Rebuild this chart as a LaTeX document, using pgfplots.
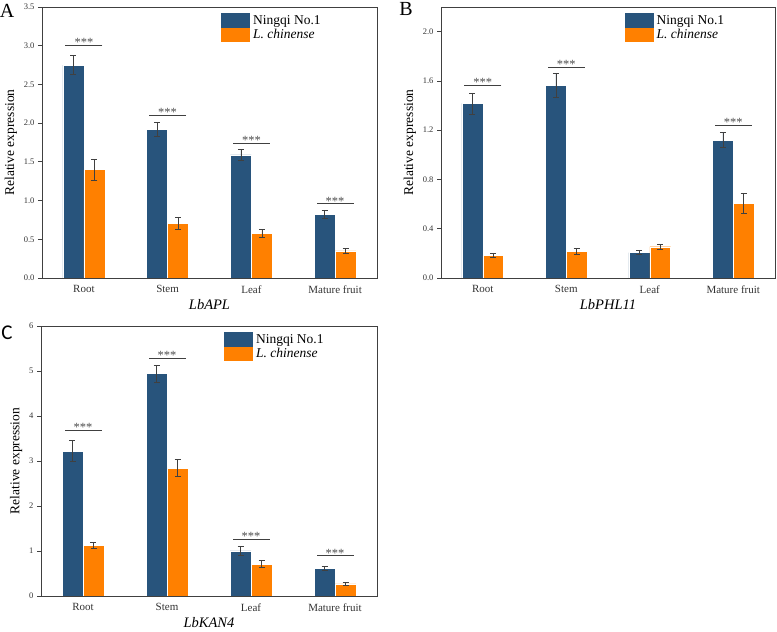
\documentclass[border=0pt]{standalone}
\usepackage{pgfplots}
\pgfplotsset{compat=1.18}
\usepackage{fontspec}
\setmainfont{Liberation Serif}
\newfontfamily\calib{Carlito}
\definecolor{ningqi}{HTML}{28547C}
\definecolor{lchin}{HTML}{FF8000}
\definecolor{axgray}{HTML}{404040}
\pgfplotsset{
  panel/.style={
    scale only axis, anchor=south west,
    xmin=-0.5, xmax=3.5,
    xtick={0,1,2,3}, xticklabels={Root,Stem,Leaf,Mature fruit},
    x tick style={draw=none},
    ytick pos=left, tick align=outside, major tick length=4pt,
    y tick style={axgray, line width=0.8pt},
    axis line style={axgray, line width=0.9pt},
    tick label style={font=\fontsize{8.5}{10}\selectfont, text=black!80},
    x tick label style={font=\fontsize{11}{13}\selectfont},
    /pgf/number format/assume math mode=true,
    ylabel={Relative expression},
    ylabel style={font=\fontsize{13.5}{15}\selectfont},
    xlabel style={font=\fontsize{14.5}{16}\selectfont\itshape, at={(axis description cs:0.5,0)}, anchor=center, yshift=-27pt},
    legend style={draw=none, fill=none, anchor=north west, font=\fontsize{13.5}{15}\selectfont,
      nodes={inner sep=1.2pt}, row sep=0.5pt,
      /tikz/every odd column/.append style={column sep=2.5pt}},
    legend cell align=left,
  },
  errs/.style={error bars/.cd, y dir=both, y explicit,
    error bar style={draw=black!75, line width=0.6pt},
    error mark options={rotate=90, draw=black!75, line width=0.6pt, mark size=3pt}},
  nq/.style={ybar, bar width=0.25, bar shift=0, fill=ningqi, draw=white, line width=0.4pt,
    legend image code/.code={\fill[ningqi] (0pt,-6.5pt) rectangle (28pt,7pt);}, errs},
  lc/.style={ybar, bar width=0.25, bar shift=0, fill=lchin, draw=white, line width=0.4pt,
    legend image code/.code={\fill[lchin] (0pt,-6.5pt) rectangle (28pt,7pt);}, errs},
  sig/.style={only marks, mark=-, mark size=18.5pt, mark options={draw=axgray, line width=0.7pt},
    nodes near coords={***},
    every node near coord/.append style={font=\fontsize{12.5}{12}\selectfont, text=black!70, anchor=base, inner sep=0pt, yshift=-1.5pt},
    forget plot},
}
% bars of Ningqi No.1 sit at category - 0.125, L. chinense at category + 0.125
\begin{document}
\begin{tikzpicture}
\useasboundingbox (0,0) rectangle (777pt,632pt);
\node[font=\fontsize{20}{20}\selectfont] at (7pt,621pt) {A};
\node[font=\fontsize{20}{20}\selectfont] at (406pt,623pt) {B};
\node[font=\calib\fontsize{21}{21}\selectfont] at (7pt,299pt) {C};

% A
\begin{axis}[panel, at={(42pt,354pt)}, width=335pt, height=271pt,
  ymin=0, ymax=3.5, ytick={0,0.5,1,1.5,2,2.5,3,3.5},
  y tick label style={/pgf/number format/.cd, fixed, fixed zerofill, precision=1},
  xlabel={LbAPL}, legend style={at={(0.525,0.985)}}]
\addplot[nq] coordinates {(-0.125,2.75) +- (0,0.12) (0.875,1.92) +- (0,0.09) (1.875,1.59) +- (0,0.07) (2.875,0.82) +- (0,0.05)};
\addlegendentry{Ningqi No.1}
\addplot[lc] coordinates {(0.125,1.40) +- (0,0.135) (1.125,0.71) +- (0,0.08) (2.125,0.58) +- (0,0.05) (3.125,0.35) +- (0,0.03)};
\addlegendentry{\textit{L. chinense}}
\addplot[sig] coordinates {(0,3.01) (1,2.10) (2,1.74) (3,0.96)};
\end{axis}

% B
\begin{axis}[panel, at={(441pt,354pt)}, width=334pt, height=271pt,
  ymin=0, ymax=2.2, ytick={0,0.4,0.8,1.2,1.6,2.0},
  y tick label style={/pgf/number format/.cd, fixed, fixed zerofill, precision=1},
  xlabel={LbPHL11}, legend style={at={(0.54,0.985)}}]
\addplot[nq] coordinates {(-0.125,1.417) +- (0,0.085) (0.875,1.563) +- (0,0.10) (1.875,0.206) +- (0,0.015) (2.875,1.12) +- (0,0.06)};
\addlegendentry{Ningqi No.1}
\addplot[lc] coordinates {(0.125,0.184) +- (0,0.015) (1.125,0.214) +- (0,0.025) (2.125,0.254) +- (0,0.02) (3.125,0.607) +- (0,0.08)};
\addlegendentry{\textit{L. chinense}}
\addplot[sig] coordinates {(0,1.567) (1,1.71) (3,1.24)};
\end{axis}

% C
\begin{axis}[panel, at={(41pt,36pt)}, width=336pt, height=270pt,
  ymin=0, ymax=6, ytick={0,1,2,3,4,5,6},
  xlabel={LbKAN4}, legend style={at={(0.535,0.985)}}]
\addplot[nq] coordinates {(-0.125,3.22) +- (0,0.23) (0.875,4.94) +- (0,0.19) (1.875,1.00) +- (0,0.10) (2.875,0.61) +- (0,0.04)};
\addlegendentry{Ningqi No.1}
\addplot[lc] coordinates {(0.125,1.12) +- (0,0.07) (1.125,2.84) +- (0,0.19) (2.125,0.71) +- (0,0.08) (3.125,0.27) +- (0,0.03)};
\addlegendentry{\textit{L. chinense}}
\addplot[sig] coordinates {(0,3.68) (1,5.28) (2,1.26) (3,0.895)};
\end{axis}
\end{tikzpicture}
\end{document}
